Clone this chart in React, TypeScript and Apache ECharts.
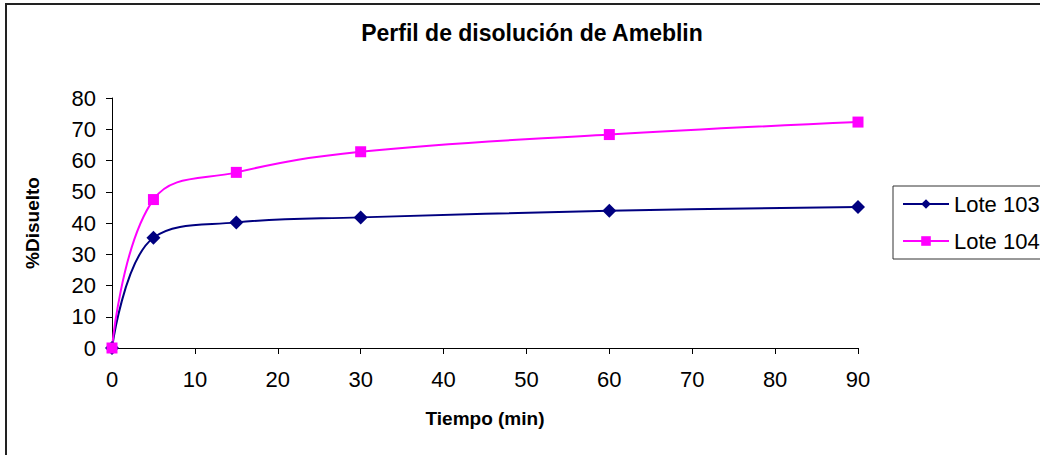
import React, { useEffect, useRef } from "react";
import * as echarts from "echarts";

// Dissolution profile of Ameblin: % dissolved vs. time (min)
const tiempo = [0, 5, 15, 30, 60, 90];
const lote103 = [0, 35.3, 40.2, 41.8, 43.9, 45.1];
const lote104 = [0, 47.5, 56.2, 62.8, 68.3, 72.3];
const seriesNames = ["Lote 103", "Lote 104"];
const xTicks = { min: 0, max: 90, interval: 10 };
const yTicks = { min: 0, max: 80, interval: 10 };

const FONT = "'Liberation Sans', Arial, sans-serif";

export default function App() {
  const ref = useRef<HTMLDivElement>(null);

  useEffect(() => {
    if (!ref.current) return;
    const chart = echarts.init(ref.current, undefined, { renderer: "svg" });
    const pairs = (ys: number[]) => tiempo.map((t, i) => [t, ys[i]]);

    chart.setOption({
      animation: false,
      backgroundColor: "#ffffff",
      title: {
        text: "Perfil de disolución de Ameblin",
        left: 532,
        top: 21,
        textAlign: "center",
        padding: 0,
        textStyle: { fontFamily: FONT, fontSize: 23, fontWeight: "bold", color: "#000" },
      },
      graphic: [
        {
          type: "rect",
          shape: { x: 6, y: 4, width: 1300, height: 600 },
          style: { fill: "none", stroke: "#222", lineWidth: 2 },
          silent: true,
        },
      ],
      legend: {
        orient: "vertical",
        left: 893,
        top: 186,
        padding: [7, 10, 7, 9],
        itemGap: 15,
        itemWidth: 46,
        itemHeight: 12,
        borderColor: "#333",
        borderWidth: 1,
        textStyle: { fontFamily: FONT, fontSize: 22, color: "#000" },
        data: seriesNames,
      },
      grid: { left: 112, top: 98, right: 1120 - 858, bottom: 455 - 348, containLabel: false },
      xAxis: {
        type: "value",
        min: xTicks.min,
        max: xTicks.max,
        interval: xTicks.interval,
        name: "Tiempo (min)",
        nameLocation: "middle",
        nameGap: 61,
        nameTextStyle: { fontFamily: FONT, fontSize: 19, fontWeight: "bold", color: "#000" },
        axisLine: { lineStyle: { color: "#000", width: 1 } },
        axisTick: { length: 6, lineStyle: { color: "#000" } },
        axisLabel: { margin: 20, fontFamily: FONT, fontSize: 22, color: "#000" },
        splitLine: { show: false },
      },
      yAxis: {
        type: "value",
        min: yTicks.min,
        max: yTicks.max,
        interval: yTicks.interval,
        name: "%Disuelto",
        nameLocation: "middle",
        nameGap: 70,
        nameTextStyle: { fontFamily: FONT, fontSize: 19, fontWeight: "bold", color: "#000" },
        axisLine: { show: true, lineStyle: { color: "#000", width: 1 } },
        axisTick: { show: true, length: 6, lineStyle: { color: "#000" } },
        axisLabel: { margin: 16, fontFamily: FONT, fontSize: 22, color: "#000" },
        splitLine: { show: false },
      },
      series: [
        {
          name: seriesNames[0],
          type: "line",
          data: pairs(lote103),
          smooth: 0.4,
          symbol: "diamond",
          symbolSize: 14,
          lineStyle: { color: "#000080", width: 2 },
          itemStyle: { color: "#000080" },
        },
        {
          name: seriesNames[1],
          type: "line",
          data: pairs(lote104),
          smooth: 0.4,
          symbol: "rect",
          symbolSize: 11,
          lineStyle: { color: "#ff00ff", width: 2 },
          itemStyle: { color: "#ff00ff" },
        },
      ],
    });

    return () => chart.dispose();
  }, []);

  return (
    <div
      style={{
        position: "fixed",
        left: 0,
        top: 0,
        width: 1040,
        height: 455,
        overflow: "hidden",
        background: "#fff",
      }}
    >
      <div ref={ref} style={{ width: 1120, height: 455 }} />
    </div>
  );
}
